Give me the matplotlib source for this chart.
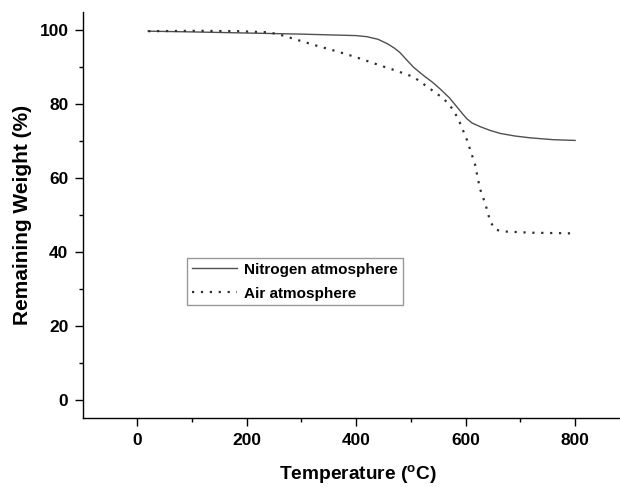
import matplotlib
matplotlib.use("Agg")
import matplotlib.pyplot as plt
from matplotlib.ticker import MultipleLocator

# TGA curves (temperature in degC, weight in %)
n2_temp = [20, 100, 200, 300, 400, 420, 440, 457, 470, 480, 493, 505, 523,
           540, 553, 570, 584, 595, 602, 612, 627, 645, 663, 690, 718, 760, 800]
n2_weight = [99.8, 99.6, 99.3, 99.0, 98.6, 98.3, 97.6, 96.4, 95.2, 94.0, 91.9,
             90.0, 87.8, 85.9, 84.2, 81.8, 79.3, 77.3, 76.1, 74.9, 73.9, 72.9,
             72.1, 71.4, 70.9, 70.4, 70.2]

air_temp = [20, 110, 183, 240, 262, 291, 327, 363, 399, 444, 471, 505, 535,
            560, 578, 590, 602, 617, 626, 636, 645, 654, 663, 675, 720, 800]
air_weight = [99.8, 99.9, 99.8, 99.5, 98.8, 97.5, 95.9, 94.4, 92.8, 90.5, 89.2,
              87.4, 84.2, 81.5, 78.4, 74.8, 70.5, 63.8, 57.2, 53.0, 48.2, 46.1,
              45.7, 45.5, 45.2, 45.0]

plt.rcParams["font.family"] = ["Liberation Sans", "DejaVu Sans"]
plt.rcParams["font.weight"] = "bold"

fig = plt.figure(figsize=(6.2, 4.87), dpi=100)
ax = fig.add_axes([0.1339, 0.1417, 0.8661, 0.8337])

ax.plot(n2_temp, n2_weight, color="#505050", linewidth=1.0,
        label="Nitrogen atmosphere")
ax.plot(air_temp, air_weight, color="#303030", linewidth=1.6,
        linestyle=(0, (1, 3)), label="Air atmosphere")

ax.set_xlim(-99, 882)
ax.set_ylim(-5, 105)

ax.xaxis.set_major_locator(MultipleLocator(200))
ax.xaxis.set_minor_locator(MultipleLocator(100))
ax.yaxis.set_major_locator(MultipleLocator(20))
ax.yaxis.set_minor_locator(MultipleLocator(10))

for side in ("top", "right"):
    ax.spines[side].set_visible(False)
for side in ("left", "bottom"):
    ax.spines[side].set_linewidth(1.0)

ax.tick_params(which="major", direction="out", length=5.5, width=1.0,
               labelsize=12.5, pad=5)
ax.tick_params(which="minor", direction="out", length=3, width=1.0)

ax.set_xlabel("Temperature ($\\mathregular{^oC}$)", fontsize=13.8, fontweight="bold")
ax.set_ylabel("Remaining Weight (%)", fontsize=15, fontweight="bold")
ax.xaxis.set_label_coords(0.511, -0.112)
ax.yaxis.set_label_coords(-0.095, 0.5)

leg = ax.legend(loc="upper left", bbox_to_anchor=(0.1937, 0.394),
                borderaxespad=0, fancybox=False, fontsize=11,
                handlelength=3.0, handletextpad=0.45, labelspacing=0.65,
                borderpad=0.3, frameon=True)
leg.get_frame().set_edgecolor("#808080")
leg.get_frame().set_linewidth(1.0)
for txt in leg.get_texts():
    txt.set_fontweight("bold")

fig.savefig("out.png", dpi=100)
